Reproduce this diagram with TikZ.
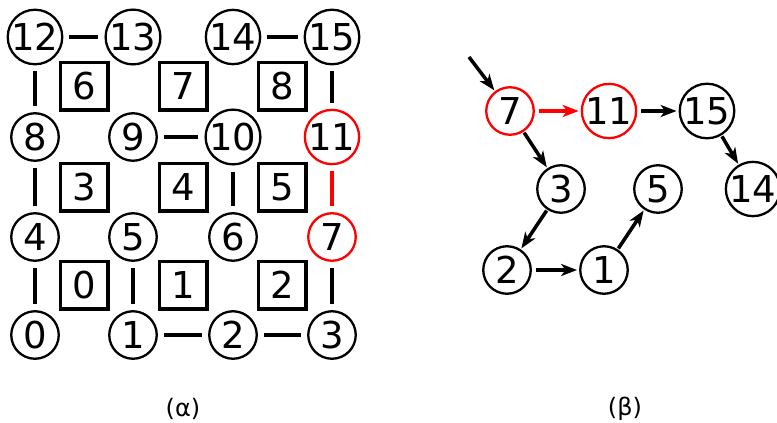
\documentclass[tikz,border=0pt]{standalone}
\usepackage{fontspec}
\setmainfont{DejaVu Sans}
\usetikzlibrary{arrows.meta}
\begin{document}
\begin{tikzpicture}[x=1pt,y=-1pt,
  vtx/.style={circle,draw,line width=2.3pt,minimum size=47.5pt,inner sep=0pt,font=\fontsize{37}{37}\selectfont},
  face/.style={rectangle,draw,line width=3.5pt,minimum size=47.5pt,inner sep=0pt,font=\fontsize{37}{37}\selectfont},
  hl/.style={draw=red},
  edge/.style={line width=3.5pt,shorten <=6pt,shorten >=6pt},
  arr/.style={line width=3.5pt,-{Stealth[length=16pt,width=12pt,inset=4.5pt]},shorten <=4pt,shorten >=2pt},
  darr/.style={arr,shorten <=1pt,shorten >=1pt},
  captext/.style={font=\fontsize{24}{24}\selectfont}]
\useasboundingbox (0,0) rectangle (777,423);
% grid vertices
\node[vtx] (g0) at (35,335) {0};
\node[vtx] (g1) at (133,335) {1};
\node[vtx] (g2) at (233,335) {2};
\node[vtx] (g3) at (332,335) {3};
\node[vtx] (g4) at (35,237) {4};
\node[vtx] (g5) at (133,237) {5};
\node[vtx] (g6) at (233,237) {6};
\node[vtx,hl] (g7) at (332,237) {7};
\node[vtx] (g8) at (35,137) {8};
\node[vtx] (g9) at (133,137) {9};
\node[vtx] (g10) at (233,137) {10};
\node[vtx,hl] (g11) at (332,137) {11};
\node[vtx] (g12) at (35,37) {12};
\node[vtx] (g13) at (133,37) {13};
\node[vtx] (g14) at (233,37) {14};
\node[vtx] (g15) at (332,37) {15};
% faces
\node[face] (f0) at (84,285) {0};
\node[face] (f1) at (183,285) {1};
\node[face] (f2) at (282,285) {2};
\node[face] (f3) at (84,187) {3};
\node[face] (f4) at (183,187) {4};
\node[face] (f5) at (282,187) {5};
\node[face] (f6) at (84,86) {6};
\node[face] (f7) at (183,86) {7};
\node[face] (f8) at (282,86) {8};
% grid edges
\draw[edge] (g12) -- (g13);
\draw[edge] (g14) -- (g15);
\draw[edge] (g12) -- (g8);
\draw[edge] (g15) -- (g11);
\draw[edge] (g9) -- (g10);
\draw[edge] (g8) -- (g4);
\draw[edge] (g10) -- (g6);
\draw[edge,red] (g11) -- (g7);
\draw[edge] (g4) -- (g0);
\draw[edge] (g5) -- (g1);
\draw[edge] (g7) -- (g3);
\draw[edge] (g1) -- (g2);
\draw[edge] (g2) -- (g3);
% right graph
\node[vtx,hl] (t7) at (510,111) {7};
\node[vtx,hl] (t11) at (609,111) {11};
\node[vtx] (t15) at (707,111) {15};
\node[vtx] (t3) at (561,189) {3};
\node[vtx] (t5) at (658,189) {5};
\node[vtx] (t14) at (753,189) {14};
\node[vtx] (t2) at (507,270) {2};
\node[vtx] (t1) at (604,270) {1};
\coordinate (start) at (469,57);
\draw[darr,shorten <=0pt] (start) -- (t7);
\draw[arr,red] (t7) -- (t11);
\draw[arr] (t11) -- (t15);
\draw[darr] (t7) -- (t3);
\draw[darr] (t15) -- (t14);
\draw[darr] (t3) -- (t2);
\draw[arr] (t2) -- (t1);
\draw[darr] (t1) -- (t5);
% captions
\node[captext] (ca) at (183,409) {(α)};
\node[captext] (cb) at (625,409) {(β)};
\end{tikzpicture}
\end{document}
